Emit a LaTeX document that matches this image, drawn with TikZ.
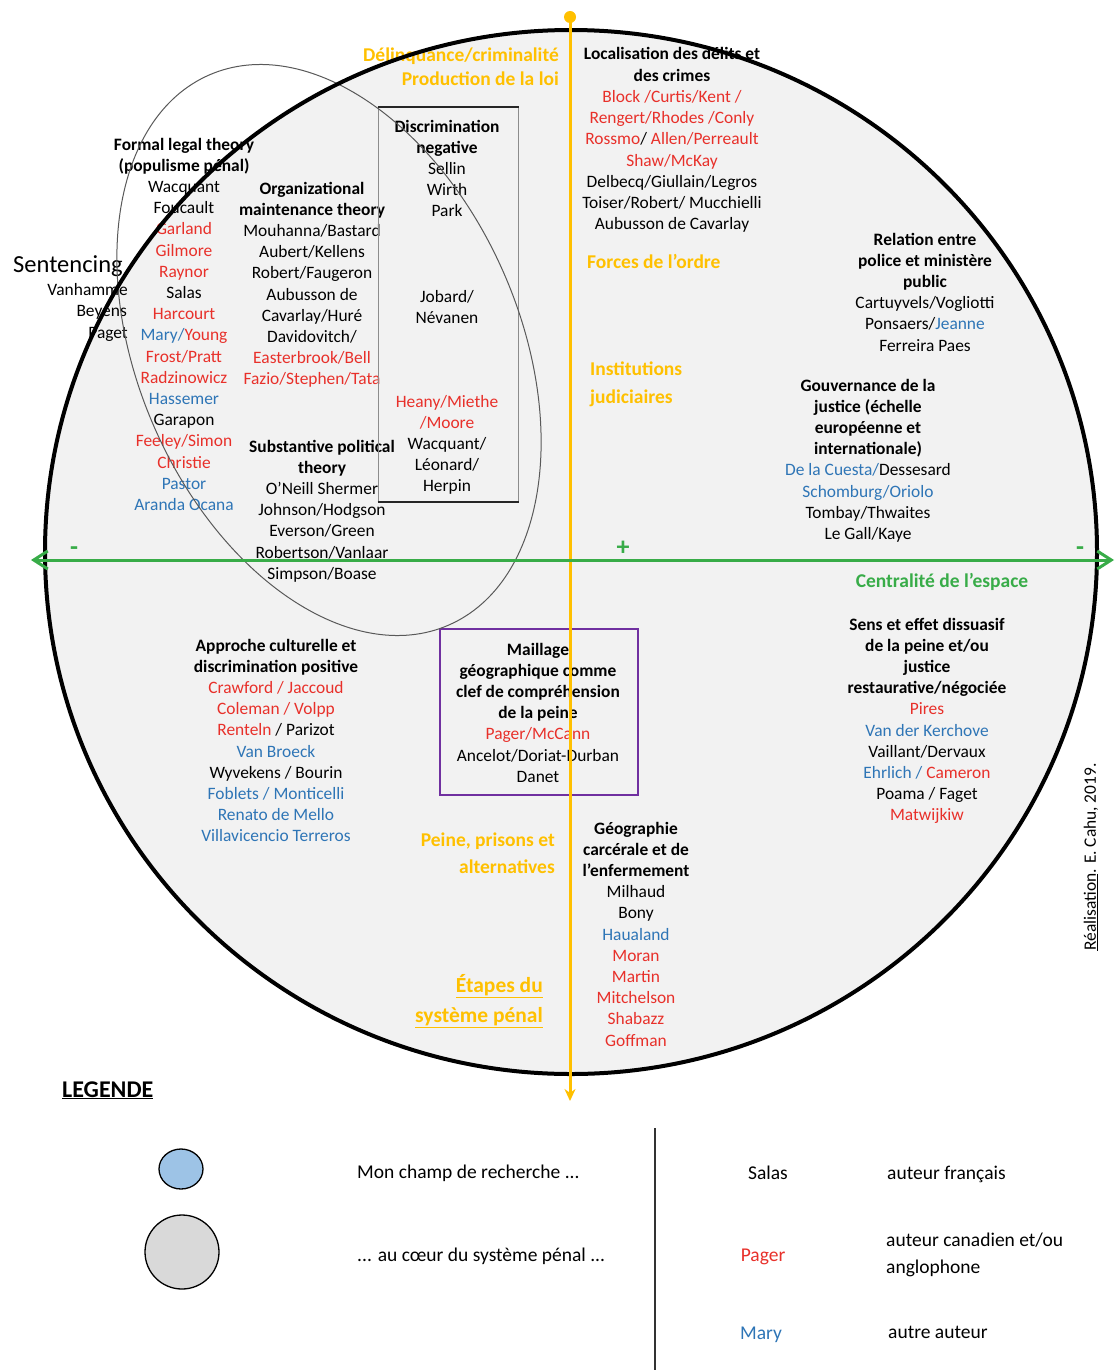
\documentclass[tikz,border=0pt]{standalone}
\usepackage{fontspec}
\setmainfont{Carlito}
\usetikzlibrary{arrows.meta}

\definecolor{rd}{RGB}{232,48,42}
\definecolor{bl}{RGB}{46,117,182}
\definecolor{og}{RGB}{255,192,0}
\definecolor{gn}{RGB}{56,172,72}
\definecolor{pu}{RGB}{112,48,160}
\definecolor{disc}{RGB}{242,242,242}
\definecolor{lgblue}{RGB}{157,195,230}
\definecolor{lggray}{RGB}{217,217,217}

\newcommand\rd[1]{\textcolor{rd}{#1}}
\newcommand\bl[1]{\textcolor{bl}{#1}}
\newcommand\fs{\fontsize{17.4}{21.2}\selectfont}
\newcommand\fo{\fontsize{19.5}{23.8}\selectfont\bfseries}
\newcommand\fl{\fontsize{19.5}{23.8}\selectfont}

% one node per line: name, style, x, centre of first line, lines
\newcommand\textblock[5]{%
  \foreach \linetext [count=\k] in {#5} {%
    \node[#2] (#1-\k) at (#3, {#4+6+(\k-1)*21.2}) {\linetext};}%
}

\tikzset{
  ctr/.style={anchor=base, inner sep=0pt, font=\fs},
  lft/.style={anchor=base west, inner sep=0pt, font=\fs},
  rgt/.style={anchor=base east, inner sep=0pt, font=\fs},
  axislabel/.style={inner sep=0pt, font=\fo, text=og},
  sign/.style={inner sep=0pt, text=gn, font=\fontsize{26}{30}\selectfont\bfseries},
}

\begin{document}
\begin{tikzpicture}[x=1pt,y=-1pt]
\useasboundingbox (0,0) rectangle (1115,1370);
\fill[white] (0,0) rectangle (1115,1370);

% disc of the penal system
\fill[disc] (571,552) ellipse [x radius=526pt, y radius=522pt];

% ---- upper left ----
\textblock{formal}{ctr}{184}{144}{{\textbf{Formal legal theory}},{\textbf{(populisme pénal)}},Wacquant,Foucault,{\rd{Garland}},{\rd{Gilmore}},{\rd{Raynor}},Salas,{\rd{Harcourt}},{\bl{Mary/}\rd{Young}},{\rd{Frost/Pratt}},{\rd{Radzinowicz}},{\bl{Hassemer}},Garapon,{\rd{Feeley/Simon}},{\rd{Christie}},{\bl{Pastor}},{\bl{Aranda Ocana}}}

\node[lft, font=\fontsize{24.5}{29}\selectfont] (sentencing) at (13,272) {Sentencing};
\node[rgt] (sent-1) at (128,295) {Vanhamme};
\node[rgt] (sent-2) at (127,316) {Beyens};
\node[rgt] (sent-3) at (128,338) {Paget};

\textblock{orga}{ctr}{312}{188}{{\textbf{Organizational}},{\textbf{maintenance theory}},Mouhanna/Bastard,Aubert/Kellens,Robert/Faugeron,Aubusson de,Cavarlay/Huré,Davidovitch/,{\rd{Easterbrook/Bell}},{\rd{Fazio/Stephen/Tata}}}

\textblock{subst}{ctr}{322}{446}{{\textbf{Substantive political}},{\textbf{theory}},O’Neill Shermer,Johnson/Hodgson,Everson/Green,Robertson/Vanlaar,Simpson/Boase}

\textblock{discr}{ctr}{447}{126}{{\textbf{Discrimination}},{\textbf{negative}},Sellin,Wirth,Park}
\textblock{jobard}{ctr}{447}{296}{Jobard/,Névanen}
\textblock{heany}{ctr}{447}{401}{{\rd{Heany/Miethe}},{\rd{/Moore}},Wacquant/,Léonard/,Herpin}

% ---- axis labels ----
\node[axislabel, anchor=base east] (lab-delinq) at (559,62) {Délinquance/criminalité};
\node[axislabel, anchor=base east] (lab-prod) at (559,86) {Production de la loi};
\node[axislabel, anchor=base west] (lab-forces) at (587,268) {Forces de l’ordre};
\node[axislabel, anchor=base west] (lab-instit) at (590,375) {Institutions};
\node[axislabel, anchor=base west] (lab-judic) at (590,403) {judiciaires};
\node[axislabel, anchor=base east] (lab-peine) at (555,846) {Peine, prisons et};
\node[axislabel, anchor=base east] (lab-altern) at (555,873) {alternatives};
\node[axislabel, anchor=base east, font=\fontsize{21.5}{26}\selectfont\bfseries] (lab-etapes) at (543,992) {\underline{Étapes du}};
\node[axislabel, anchor=base east, font=\fontsize{21.5}{26}\selectfont\bfseries] (lab-systeme) at (543,1022) {\underline{système pénal}};
\node[axislabel, anchor=base, text=gn] (lab-centr) at (942,587) {Centralité de l’espace};
\node[sign] (plus) at (623,548) {+};
\node[sign] (minus-l) at (74,551) {-};
\node[sign] (minus-r) at (1080,551) {-};

% ---- upper right ----
\textblock{local}{ctr}{672}{54}{{\textbf{Localisation des délits et}},{\textbf{des crimes}},{\rd{Block /Curtis/Kent /}},{\rd{Rengert/Rhodes /Conly}},{\rd{Rossmo}/ \rd{Allen/Perreault}},{\rd{Shaw/McKay}},Delbecq/Giullain/Legros,Toiser/Robert/ Mucchielli,Aubusson de Cavarlay}

\textblock{relat}{ctr}{925}{239}{{\textbf{Relation entre}},{\textbf{police et ministère}},{\textbf{public}},Cartuyvels/Vogliotti,{Ponsaers/\bl{Jeanne}},Ferreira Paes}

\textblock{gouv}{ctr}{868}{385}{{\textbf{Gouvernance de la}},{\textbf{justice (échelle}},{\textbf{européenne et}},{\textbf{internationale)}},{\bl{De la Cuesta/}Dessesard},{\bl{Schomburg/Oriolo}},Tombay/Thwaites,Le Gall/Kaye}

% ---- lower half ----
\textblock{appro}{ctr}{276}{645}{{\textbf{Approche culturelle et}},{\textbf{discrimination positive}},{\rd{Crawford / Jaccoud}},{\rd{Coleman / Volpp}},{\rd{Renteln} / Parizot},{\bl{Van Broeck}},Wyvekens / Bourin,{\bl{Foblets / Monticelli}},{\bl{Renato de Mello}},{\bl{Villavicencio Terreros}}}

\textblock{maill}{ctr}{538}{649}{{\textbf{Maillage}},{\textbf{géographique comme}},{\textbf{clef de compréhension}},{\textbf{de la peine}},{\rd{Pager/McCann}},Ancelot/Doriat-Durban,Danet}

\textblock{sens}{ctr}{927}{624}{{\textbf{Sens et effet dissuasif}},{\textbf{de la peine et/ou}},{\textbf{justice}},{\textbf{restaurative/négociée}},{\rd{Pires}},{\bl{Van der Kerchove}},Vaillant/Dervaux,{\bl{Ehrlich /} \rd{Cameron}},Poama / Faget,{\rd{Matwijkiw}}}

\textblock{geo}{ctr}{636}{828}{{\textbf{Géographie}},{\textbf{carcérale et de}},{\textbf{l’enfermement}},Milhaud,Bony,{\bl{Haualand}},{\rd{Moran}},{\rd{Martin}},{\rd{Mitchelson}},{\rd{Shabazz}},{\rd{Goffman}}}

% credit
\node[anchor=center, inner sep=0pt, font=\fs, rotate=90] (credit) at (1091,857) {\underline{Réalisation}. E. Cahu, 2019.};

% ---- frames and outlines ----
\draw[black!45, line width=1pt] (378,107) -- (378,502) (518,107) -- (518,502);
\draw[black!85, line width=1.2pt] (377.5,107) -- (518.5,107) (377.5,502) -- (518.5,502);
\draw[pu, line width=2pt] (440,629) rectangle (638,795);
\draw[black!65, line width=1pt, shift={(329,350)}, rotate=-66.5] (0,0) ellipse [x radius=300pt, y radius=191pt];
\draw[line width=4pt] (571,552) ellipse [x radius=526pt, y radius=522pt];

% ---- axes ----
\node[circle, fill=og, minimum size=12pt, inner sep=0pt] (topdot) at (570,17) {};
\coordinate (ybot) at (570,1101);
\draw[og, line width=3pt, -{Stealth[length=12pt,width=11pt]}] (topdot.center) -- (ybot);
\coordinate (gleft) at (31,560);
\coordinate (gright) at (1114,560);
\draw[gn, line width=3pt, {Straight Barb[length=14pt,width=18pt]}-{Straight Barb[length=14pt,width=18pt]}] (gleft) -- (gright);

% ---- legend ----
\node[anchor=base west, inner sep=0pt, font=\fontsize{24}{29}\selectfont\bfseries] (legend) at (62,1097) {\underline{LEGENDE}};
\draw[line width=1.3pt, fill=lgblue] (181,1169) ellipse [x radius=22pt, y radius=20pt];
\draw[line width=1.3pt, fill=lggray] (182,1252) ellipse [x radius=37pt, y radius=37pt];
\node[anchor=base west, inner sep=0pt, font=\fl] (lg-champ) at (357,1178) {Mon champ de recherche ...};
\node[anchor=base west, inner sep=0pt, font=\fl] (lg-coeur) at (357,1261) {... au cœur du système pénal ...};
\coordinate (septop) at (655,1128);
\coordinate (sepbot) at (655,1370);
\draw[black!80, line width=1.3pt] (septop) -- (sepbot);
\node[anchor=base, inner sep=0pt, font=\fl] (lg-salas) at (768,1179) {Salas};
\node[anchor=base west, inner sep=0pt, font=\fl] (lg-fr) at (887,1179) {auteur français};
\node[anchor=base, inner sep=0pt, font=\fl, text=rd] (lg-pager) at (763,1261) {Pager};
\node[anchor=base west, inner sep=0pt, font=\fl] (lg-can1) at (886,1246) {auteur canadien et/ou};
\node[anchor=base west, inner sep=0pt, font=\fl] (lg-can2) at (886,1273) {anglophone};
\node[anchor=base, inner sep=0pt, font=\fl, text=bl] (lg-mary) at (761,1339) {Mary};
\node[anchor=base west, inner sep=0pt, font=\fl] (lg-autre) at (888,1338) {autre auteur};
\end{tikzpicture}
\end{document}
